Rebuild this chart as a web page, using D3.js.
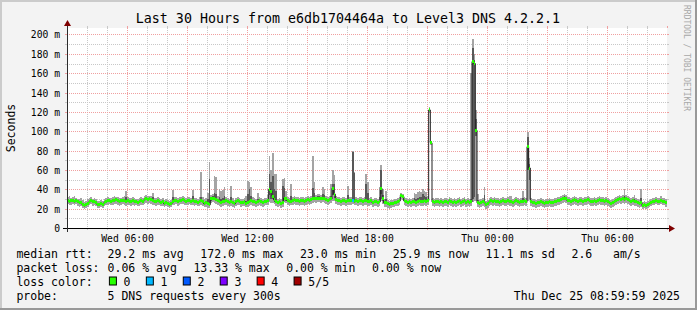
<!DOCTYPE html>
<html>
<head>
<meta charset="utf-8">
<style>
  body { margin: 0; background: #fff; }
  svg { display: block; }
  text { font-family: "DejaVu Sans Mono", monospace; fill: #000; }
</style>
</head>
<body>
<div id="chart"></div>
<script src="https://cdn.jsdelivr.net/npm/d3@7/dist/d3.min.js"></script>
<script>

// --- data: 5 pings every 300 s, Wed 03:00 -> Thu 09:00 (360 steps), values in ms ---
// median of the 5 pings
var rttMedian = [
  28,27,28,28,27,28,27,26,26,24,23,24,25,27,28,27,27,26,24,24,
  25,24,26,27,28,28,27,28,28,29,28,27,28,28,28,27,28,27,27,28,
  27,27,26,27,28,27,29,30,29,30,29,28,27,27,28,27,26,27,25,26,
  25,24,25,27,28,28,27,28,28,29,28,27,28,28,27,28,27,27,26,27,
  28,27,25,26,25,24,30,31,30,29,28,27,26,27,27,28,27,26,27,26,
  25,27,28,27,26,26,27,25,26,27,28,27,27,26,27,28,27,26,27,27,
  28,40,38,33,29,27,26,27,25,26,31,30,28,27,27,28,29,28,28,27,
  28,28,27,28,29,28,29,30,31,30,31,31,30,31,30,29,28,29,30,41,
  35,29,28,28,27,28,28,27,28,28,28,28,27,28,27,28,28,27,28,28,
  27,27,28,26,27,27,26,27,41,30,26,26,25,24,25,25,26,26,27,28,
  34,33,28,27,26,27,26,27,27,26,27,28,27,27,28,27,28,122,88,27,
  26,27,27,26,27,26,27,27,26,28,27,26,27,26,27,28,26,27,28,26,
  27,26,27,172,170,101,26,25,26,27,26,24,25,27,28,27,28,27,27,26,
  27,28,27,27,28,27,27,26,27,28,27,26,27,27,28,27,84,62,27,26,
  26,25,26,26,27,26,25,26,26,27,26,26,27,27,28,28,29,30,31,30,
  28,28,27,28,29,28,27,28,28,27,28,28,29,28,27,27,28,27,28,29,
  28,28,27,28,27,26,25,26,27,28,29,30,29,30,29,30,29,28,27,28,
  27,27,26,25,26,23,24,23,24,25,26,27,27,28,27,27,28,27,27,25.9
];
// fastest ping
var rttMin = [
  25,24,24,25,24,25,23,22,23,21,20,21,22,24,25,23,24,23,21,21,
  22,21,23,24,24,25,24,24,25,25,24,23,24,25,24,23,24,24,23,24,
  23,24,23,23,24,24,25,26,25,26,25,24,24,23,24,24,23,23,22,23,
  22,21,22,24,24,25,23,24,25,25,24,24,24,25,24,24,23,24,23,23,
  24,23,22,22,21,21,26,27,26,25,24,23,22,23,24,24,23,22,23,22,
  21,23,24,24,22,23,23,22,22,23,24,23,23,22,23,24,23,22,23,24,
  24,27,26,26,25,23,22,23,21,22,27,26,24,23,24,24,25,24,24,23,
  24,24,23,24,25,24,25,26,27,26,27,27,26,27,26,25,24,25,26,28,
  28,25,24,24,23,24,24,23,24,24,24,25,24,24,23,24,24,23,24,24,
  23,23,24,22,23,23,22,23,28,25,22,22,21,20,21,22,22,23,23,24,
  30,29,24,23,22,23,22,23,23,22,23,24,23,23,24,23,24,119,86,23,
  22,23,23,22,23,22,23,23,22,24,23,22,23,22,23,24,22,23,24,22,
  23,22,23,27,28,28,22,21,22,23,22,20,21,23,24,23,24,23,23,22,
  23,24,23,23,24,23,23,22,23,24,23,22,23,23,24,23,28,30,23,22,
  22,21,22,22,23,22,21,22,22,23,22,22,23,23,24,24,25,26,27,26,
  24,24,23,24,25,24,23,24,24,23,24,24,25,24,23,23,24,23,24,25,
  24,24,23,24,23,22,21,22,23,24,25,26,25,26,25,26,25,24,23,24,
  23,23,22,21,22,20,21,20,21,22,23,24,24,25,24,24,25,24,24,22
];
// second ping
var rttLow = [
  27,26,27,27,26,27,26,25,25,23,22,23,24,26,27,26,26,25,23,23,
  24,23,25,26,27,27,26,27,27,28,27,26,27,27,27,26,27,26,26,27,
  26,26,25,26,27,26,28,29,28,29,28,27,26,26,27,26,25,26,24,25,
  24,23,24,26,27,27,26,27,27,28,27,26,27,27,26,27,26,26,25,26,
  27,26,24,25,24,23,28,29,29,28,27,26,25,26,26,27,26,25,26,25,
  24,26,27,26,25,25,26,24,25,26,27,26,26,25,26,27,26,25,26,26,
  27,34,30,30,27,26,25,26,24,25,29,28,27,26,26,27,28,27,27,26,
  27,27,26,27,28,27,28,29,30,29,30,30,29,30,29,28,27,28,29,34,
  31,28,27,27,26,27,27,26,27,27,27,27,26,27,26,27,27,26,27,27,
  26,26,27,25,26,26,25,26,35,28,25,25,24,23,24,24,25,25,26,27,
  33,31,27,26,25,26,25,26,26,25,26,27,26,26,27,26,27,121,87,26,
  25,26,26,25,26,25,26,26,25,27,26,25,26,25,26,27,25,26,27,25,
  26,25,26,30,32,95,25,24,25,26,25,23,24,26,27,26,27,26,26,25,
  26,27,26,26,27,26,26,25,26,27,26,25,26,26,27,26,60,50,26,25,
  25,24,25,25,26,25,24,25,25,26,25,25,26,26,27,27,28,29,30,29,
  27,27,26,27,28,27,26,27,27,26,27,27,28,27,26,26,27,26,27,28,
  27,27,26,27,26,25,24,25,26,27,28,29,28,29,28,29,28,27,26,27,
  26,26,25,24,25,22,23,22,23,24,25,26,26,27,26,26,27,26,26,25
];
// fourth ping
var rttHigh = [
  29,29,29,30,29,29,29,28,28,26,25,26,27,29,30,29,29,28,26,26,
  27,26,28,29,30,30,29,30,30,31,30,29,30,30,30,32,30,29,29,30,
  29,29,28,29,30,29,31,32,31,32,31,32,29,29,30,29,28,29,27,28,
  27,26,27,32,30,30,29,30,30,31,30,29,30,30,29,33,29,29,28,29,
  32,29,27,28,30,51,32,33,36,35,30,32,30,31,33,30,29,28,32,28,
  27,29,30,29,28,28,29,28,35,40,33,29,29,28,30,30,29,28,29,29,
  30,56,48,54,40,38,28,29,27,43,41,32,30,29,33,30,31,30,30,29,
  30,30,29,30,31,30,31,41,36,32,33,33,32,35,34,31,30,31,33,45,
  45,31,30,30,29,30,30,29,34,30,30,79,57,30,29,30,30,29,30,45,
  36,29,30,28,29,29,28,32,60,34,28,30,27,26,27,27,28,28,29,30,
  35,34,30,29,28,29,28,29,31,30,31,32,32,35,33,32,30,123,89,29,
  28,29,29,28,29,28,29,29,28,30,29,28,29,28,29,30,28,29,30,28,
  29,28,30,186,174,113,29,27,28,29,34,26,27,29,30,29,30,29,29,28,
  29,30,29,29,30,29,29,28,29,30,29,28,29,31,30,29,94,66,29,28,
  28,27,28,28,29,28,27,28,28,29,28,28,29,29,30,30,31,32,33,32,
  30,30,29,30,31,30,29,30,30,29,30,30,31,30,29,29,30,29,30,31,
  30,30,29,30,29,28,27,28,29,30,31,32,31,32,33,32,31,30,29,30,
  30,29,28,27,31,25,26,25,26,27,28,29,29,30,29,29,30,29,29,28
];
// slowest ping
var rttMax = [
  32,33,31,32,33,31,30,30,31,29,27,28,30,31,32,30,31,30,28,28,
  29,28,30,31,32,31,31,32,33,32,32,31,31,32,33,38,32,31,31,32,
  31,30,30,31,32,31,33,34,33,33,33,36,31,31,32,31,30,31,29,30,
  29,28,29,39,32,32,31,32,32,33,32,31,32,32,31,39,31,31,30,32,
  58,32,30,31,36,68,34,35,54,53,33,40,38,39,42,32,31,30,43,31,
  29,31,32,31,30,30,31,33,49,48,42,32,31,30,36,32,31,30,31,31,
  34,74,60,77,56,56,30,31,30,51,52,38,32,31,45,32,33,32,32,31,
  32,32,31,32,33,32,33,74,48,34,35,35,34,42,40,33,32,33,45,60,
  55,33,32,32,31,32,32,31,43,32,32,80,58,32,31,32,32,31,32,56,
  48,31,32,30,31,31,30,42,65,40,30,38,29,28,29,29,30,30,31,32,
  36,35,32,31,30,31,30,31,36,35,37,38,37,40,38,37,33,125,90,31,
  30,31,31,30,31,30,31,31,30,32,31,30,31,30,31,32,30,31,32,30,
  31,30,160,195,180,122,35,29,30,31,42,28,29,31,32,31,32,31,31,30,
  31,32,31,31,32,33,33,30,31,32,31,30,31,38,32,31,99,72,31,30,
  30,29,30,30,31,30,29,30,30,31,30,30,31,31,32,32,33,34,35,34,
  32,32,31,32,33,32,31,32,32,31,32,32,33,32,31,31,32,31,32,33,
  32,32,31,32,31,30,29,30,31,32,33,34,33,34,40,34,33,32,31,32,
  34,31,30,29,40,27,28,27,28,29,30,31,31,32,31,31,33,31,31,30
];
// steps with lost pings: [step index, lost count]
var lossSteps = [[171, 1]];

var lossLabels = ["0", "1", "2", "3", "4", "5/5"];
var lossColors = ["#26ff00", "#00b8ff", "#0059ff", "#7e00ff", "#ff0000", "#a00000"];

var rttStats = ["29.2 ms avg", "172.0 ms max", "23.0 ms min", "25.9 ms now", "11.1 ms sd", "2.6   am/s"];
var lossStats = ["0.06 % avg", "13.33 % max", "0.00 % min", "0.00 % now"];

var titleText = "Last 30 Hours from e6db1704464a to Level3 DNS 4.2.2.1";
var probeText = "5 DNS requests every 300s";
var stampText = "Thu Dec 25 08:59:59 2025";

var tStart = new Date(2025, 11, 24, 3, 0, 0);
var tEnd = new Date(2025, 11, 25, 9, 0, 0);
var stepMs = 300 * 1000;
var yTop = 206.7;

// --- layout ---
var W = 697, H = 310;
var plot = {left: 67, top: 28, width: 600, height: 200};

var svg = d3.select("#chart").append("svg").attr("width", W).attr("height", H);

// background with the 3d frame
svg.append("rect").attr("width", W).attr("height", H).attr("fill", "#f3f3f3");
svg.append("path").attr("d", "M1,0V" + H + "M0,1H" + W).attr("stroke", "#cbcbcb").attr("stroke-width", 2);
svg.append("path").attr("d", "M" + (W - 1) + ",0V" + H + "M0," + (H - 1) + "H" + W).attr("stroke", "#999").attr("stroke-width", 2);

var x = d3.scaleTime().domain([tStart, tEnd]).range([plot.left, plot.left + plot.width]);
var y = d3.scaleLinear().domain([0, yTop]).range([plot.top + plot.height, plot.top]);

svg.append("rect")
  .attr("x", plot.left).attr("y", plot.top)
  .attr("width", plot.width).attr("height", plot.height)
  .attr("fill", "#fff");

// grid
var minorCol = "#c8c8c8", majorCol = "#f0a0a0";
var g = svg.append("g").attr("shape-rendering", "crispEdges");

var hours = d3.timeHour.every(1).range(tStart, d3.timeHour.offset(tEnd, 1)).slice(1);
hours.forEach(function (t) {
  var major = t.getHours() % 3 == 0;
  var px = Math.round(x(t)) + 0.5;
  var c = major ? majorCol : minorCol;
  if (px < plot.left + plot.width) {
    g.append("line").attr("x1", px).attr("x2", px).attr("y1", plot.top).attr("y2", plot.top + plot.height)
      .attr("stroke", c).attr("stroke-dasharray", "1,1");
  }
  g.append("line").attr("x1", px).attr("x2", px).attr("y1", plot.top - 2).attr("y2", plot.top).attr("stroke", c);
  g.append("line").attr("x1", px).attr("x2", px).attr("y1", plot.top + plot.height).attr("y2", plot.top + plot.height + 2).attr("stroke", c);
});

d3.range(10, yTop, 10).forEach(function (v) {
  var major = v % 20 == 0;
  var py = Math.round(y(v)) + 0.5;
  var c = major ? majorCol : minorCol;
  g.append("line").attr("x1", plot.left).attr("x2", plot.left + plot.width).attr("y1", py).attr("y2", py)
    .attr("stroke", c).attr("stroke-dasharray", "1,1");
  g.append("line").attr("x1", plot.left - 2).attr("x2", plot.left).attr("y1", py).attr("y2", py).attr("stroke", c);
  g.append("line").attr("x1", plot.left + plot.width).attr("x2", plot.left + plot.width + 2).attr("y1", py).attr("y2", py).attr("stroke", c);
});

// smoke
var steps = d3.range(rttMedian.length + 1);
function tx(i) { return x(new Date(tStart.getTime() + i * stepMs)); }
function val(arr, i) { return arr[Math.min(i, arr.length - 1)]; }

var smoke = svg.append("g").attr("shape-rendering", "crispEdges");

var smokeOuter = d3.area().curve(d3.curveStepAfter)
  .x(function (i) { return tx(i); })
  .y0(function (i) { return y(val(rttMin, i)); })
  .y1(function (i) { return y(val(rttMax, i)); });
var smokeInner = d3.area().curve(d3.curveStepAfter)
  .x(function (i) { return tx(i); })
  .y0(function (i) { return y(val(rttLow, i)); })
  .y1(function (i) { return y(val(rttHigh, i)); });

smoke.append("path").attr("d", smokeOuter(steps)).attr("fill", "#a4a4a4");
smoke.append("path").attr("d", smokeInner(steps)).attr("fill", "#585858");

// median as a thin step line, under the coloured marks
var medLine = d3.line().curve(d3.curveStepAfter)
  .x(function (i) { return tx(i); })
  .y(function (i) { return y(val(rttMedian, i)); });
svg.append("path").attr("d", medLine(steps))
  .attr("fill", "none").attr("stroke", "#202020").attr("stroke-width", 1);

// median marks coloured by loss
var lossOf = {};
lossSteps.forEach(function (d) { lossOf[d[0]] = d[1]; });
svg.append("g").attr("shape-rendering", "crispEdges")
  .selectAll("rect").data(rttMedian).enter().append("rect")
  .attr("x", function (d, i) { return tx(i); })
  .attr("width", function (d, i) { return tx(i + 1) - tx(i); })
  .attr("y", function (d) { return y(d) - 1.5; })
  .attr("height", 3)
  .attr("fill", function (d, i) { return lossColors[lossOf[i] || 0]; });

// axes
var x0 = plot.left, y0 = plot.top + plot.height, x1 = plot.left + plot.width, yT = plot.top;
svg.append("line").attr("x1", x0 - 4).attr("x2", x1 + 4).attr("y1", y0 + 0.5).attr("y2", y0 + 0.5)
  .attr("stroke", "#000").attr("shape-rendering", "crispEdges");
svg.append("line").attr("x1", x0 + 0.5).attr("x2", x0 + 0.5).attr("y1", y0 + 4).attr("y2", yT - 4)
  .attr("stroke", "#2c2c2c").attr("shape-rendering", "crispEdges");
svg.append("path").attr("d", "M" + (x1 + 2) + "," + (y0 - 3) + "L" + (x1 + 2) + "," + (y0 + 4) + "L" + (x1 + 8) + "," + (y0 + 0.5) + "Z")
  .attr("fill", "#7f0000");
svg.append("path").attr("d", "M" + (x0 - 3) + "," + (yT - 2) + "L" + (x0 + 4) + "," + (yT - 2) + "L" + (x0 + 0.5) + "," + (yT - 8) + "Z")
  .attr("fill", "#7f0000");

// tick labels
var axisFont = "9.7px";
d3.range(0, 201, 20).forEach(function (v) {
  svg.append("text").attr("x", 60).attr("y", Math.round(y(v)) + 4)
    .attr("text-anchor", "end").style("font-size", axisFont)
    .text(v == 0 ? "0" : v + " m");
});
var fmt = d3.timeFormat("%a %H:%M");
d3.timeHour.every(6).range(tStart, tEnd).forEach(function (t) {
  svg.append("text").attr("x", x(t) + 0.5).attr("y", 241.5)
    .attr("text-anchor", "middle").style("font-size", axisFont)
    .text(fmt(t));
});

// titles
svg.append("text").attr("x", 348).attr("y", 23).attr("text-anchor", "middle")
  .style("font-size", "13.3px").text(titleText);
svg.append("text").attr("transform", "translate(14.5,128) rotate(-90)").attr("text-anchor", "middle")
  .style("font-size", "11.5px").text("Seconds");
svg.append("text").attr("transform", "translate(683.5,5) rotate(90)")
  .style("font-size", "8px").style("fill", "#a8a8a8").text("RRDTOOL / TOBI OETIKER");

// legend
var legFont = "11.5px", colX = 107.6, gap = 16.6;
var rows = [258, 271.8, 285.5, 299.5];
function leg(xp, yp, s) {
  return svg.append("text").attr("x", xp).attr("y", yp).attr("xml:space", "preserve")
    .style("font-size", legFont).text(s);
}
leg(16.4, rows[0], "median rtt:");
leg(16.4, rows[1], "packet loss:");
leg(16.4, rows[2], "loss color:");
leg(16.4, rows[3], "probe:");

var cx = colX;
rttStats.forEach(function (s) { cx += leg(cx, rows[0], s).node().getComputedTextLength() + gap; });
cx = colX;
lossStats.forEach(function (s) { cx += leg(cx, rows[1], s).node().getComputedTextLength() + gap; });
cx = 108.9;
lossLabels.forEach(function (s, i) {
  svg.append("rect").attr("x", cx + 0.5).attr("y", rows[2] - 8.5).attr("width", 7).attr("height", 8)
    .attr("fill", lossColors[i]).attr("stroke", "#000").attr("stroke-width", 1);
  cx += 14.7;
  cx += leg(cx, rows[2], s).node().getComputedTextLength() + 15.3;
});
leg(colX, rows[3], probeText);
leg(680, rows[3], stampText).attr("text-anchor", "end");

</script>
</body>
</html>
